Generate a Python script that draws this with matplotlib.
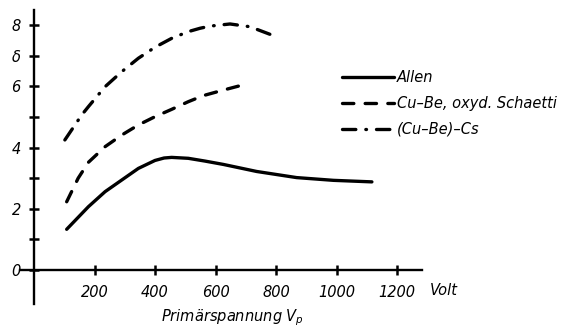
import matplotlib
matplotlib.use("Agg")
import matplotlib.pyplot as plt

# data (Volt, delta)
allen_v = [108, 180, 235, 290, 345, 400, 430, 455, 510, 565, 626, 736, 868, 990, 1117]
allen_d = [1.33, 2.07, 2.56, 2.94, 3.32, 3.58, 3.66, 3.68, 3.65, 3.56, 3.45, 3.22, 3.02, 2.93, 2.88]
cube_v = [108, 146, 180, 235, 290, 345, 400, 455, 510, 560, 626, 703]
cube_d = [2.23, 3.0, 3.52, 4.03, 4.41, 4.74, 5.01, 5.25, 5.5, 5.7, 5.88, 6.08]
cs_v = [102, 158, 180, 235, 290, 345, 400, 455, 510, 549, 582, 648, 714, 802]
cs_d = [4.25, 5.07, 5.34, 5.99, 6.48, 6.92, 7.28, 7.57, 7.79, 7.9, 7.97, 8.04, 7.95, 7.62]

labels = ["Allen", "Cu\u2013Be, oxyd. Schaetti", "(Cu\u2013Be)\u2013Cs"]
xticks = [200, 400, 600, 800, 1000, 1200]
yticks = [0, 1, 2, 3, 4, 5, 6, 7, 8]
ytick_labels = ["0", "", "2", "", "4", "", "6", "\u03b4", "8"]

plt.rcParams['font.family'] = ['DejaVu Sans']
plt.rcParams['font.style'] = 'italic'
plt.rcParams['mathtext.fontset'] = 'dejavusans'

W, H = 575, 334
fig = plt.figure(figsize=(W/100, H/100), dpi=100)
ax = fig.add_axes([0, 0, 1, 1])
sx = 0.3025
sy = 30.6
x0px, y0px = 34, 270
ax.set_xlim(-x0px/sx, (W - x0px)/sx)
ax.set_ylim((y0px - H)/sy, y0px/sy)
ax.patch.set_alpha(0)

lw = 2.4
ax.plot(allen_v, allen_d, color='black', lw=lw, solid_capstyle='round',
        solid_joinstyle='round', label=labels[0])
ax.plot(cube_v, cube_d, color='black', lw=lw, linestyle=(0, (3.4, 3.4)),
        dash_capstyle='round', label=labels[1])
ax.plot(cs_v, cs_d, color='black', lw=lw, linestyle=(0, (4.0, 3.0, 0.2, 3.0)),
        dash_capstyle='round', label=labels[2])

for s in ['top', 'right']:
    ax.spines[s].set_visible(False)
ax.spines['left'].set_position(('data', 0))
ax.spines['bottom'].set_position(('data', 0))
ax.spines['left'].set_bounds(-1.12, 8.5)
ax.spines['bottom'].set_bounds(-46, 1283)
for s in ['left', 'bottom']:
    ax.spines[s].set_linewidth(1.7)

fs = 10.5
ax.set_xticks(xticks)
ax.set_xticklabels([str(t) for t in xticks])
ax.set_yticks(yticks)
ax.set_yticklabels(ytick_labels)
ax.tick_params(axis='both', direction='inout', length=7, width=1.8, labelsize=fs)
ax.tick_params(axis='y', pad=6)
ax.tick_params(axis='x', pad=7)
for t in ax.get_xticklabels() + ax.get_yticklabels():
    t.set_fontstyle('italic')

ax.text(1310, -0.68, "Volt", fontsize=fs, ha='left', va='center', style='italic')
ax.text(655, -1.57, "Prim\u00e4rspannung $\\mathit{V}_\\mathit{p}$", fontsize=fs,
        ha='center', va='center', style='italic')

leg = ax.legend(loc='upper left', bbox_to_anchor=(336/W, 1 - 64/H), frameon=False,
                handlelength=3.6, handletextpad=0.2, labelspacing=0.75, borderaxespad=0,
                prop={'family': 'DejaVu Sans', 'style': 'italic', 'size': fs})

fig.savefig("out.png", dpi=100)
